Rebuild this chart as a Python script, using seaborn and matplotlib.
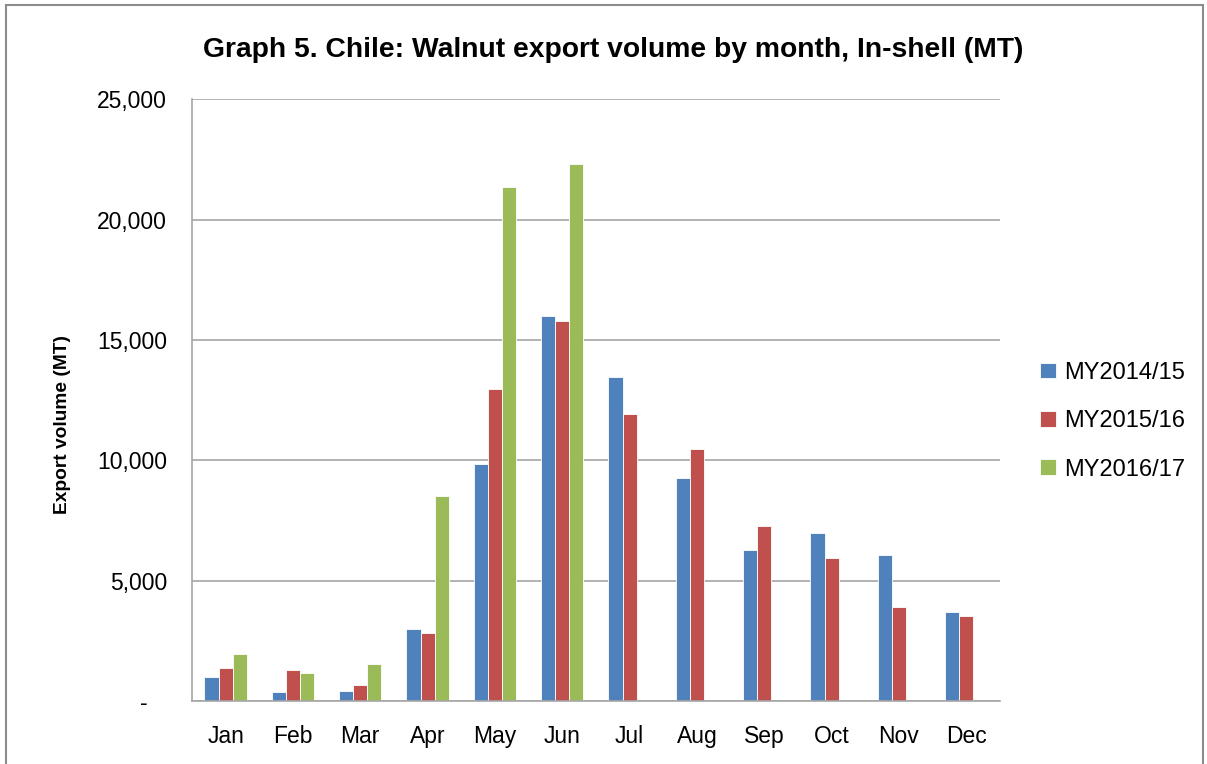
#!/usr/bin/env python3
"""
Chile walnut export volume by month, in-shell (MT).
"""

import numpy as np
import pandas as pd
import matplotlib.pyplot as plt
from matplotlib.patches import Rectangle
from matplotlib.ticker import FuncFormatter
import seaborn as sns

months = ["Jan", "Feb", "Mar", "Apr", "May", "Jun",
          "Jul", "Aug", "Sep", "Oct", "Nov", "Dec"]
seasons = ["MY2014/15", "MY2015/16", "MY2016/17"]

my2014 = [1010, 370, 430, 2980, 9830, 16000, 13450, 9250, 6290, 6960, 6060, 3710]
my2015 = [1390, 1270, 680, 2820, 12980, 15770, 11920, 10480, 7280, 5950, 3890, 3520]
my2016 = [1970, 1180, 1550, 8500, 21370, 22330, np.nan, np.nan, np.nan, np.nan, np.nan, np.nan]

colors = ["#4F81BD", "#C0504D", "#9BBB59"]

# long table for seaborn
df = pd.DataFrame({
    "month": months * 3,
    "season": np.repeat(seasons, len(months)),
    "volume": my2014 + my2015 + my2016,
})

sns.set_style("white")
plt.rcParams["font.family"] = ["Liberation Sans", "DejaVu Sans"]
plt.rcParams["text.color"] = "black"
plt.rcParams["axes.labelcolor"] = "black"

fig = plt.figure(figsize=(12.07, 7.64), dpi=100)
ax = fig.add_axes([0.159, 0.0825, 0.6695, 0.7875])

sns.barplot(data=df, x="month", y="volume", hue="season", order=months,
            hue_order=seasons, palette=colors, width=0.63, saturation=1,
            edgecolor="white", linewidth=0.6, ax=ax)

ax.set_ylim(0, 25000)
ax.set_xlim(-0.5, 11.5)
ax.set_yticks(np.arange(0, 25001, 5000))
# zero shown as a dash, accounting style
ax.yaxis.set_major_formatter(FuncFormatter(lambda v, p: "-   " if v == 0 else f"{int(v):,}"))
ax.grid(axis="y", color="#A6A6A6", linewidth=1.2)
ax.set_axisbelow(True)
ax.tick_params(axis="both", labelsize=16.5, length=0, colors="black")
ax.tick_params(axis="y", pad=18)
ax.tick_params(axis="x", pad=17)

for side in ["top", "right"]:
    ax.spines[side].set_visible(False)
for side in ["left", "bottom"]:
    ax.spines[side].set_color("#A6A6A6")
    ax.spines[side].set_linewidth(1.2)

ax.set_xlabel("")
ax.set_ylabel("Export volume (MT)", fontsize=13.8, fontweight="bold")
ax.yaxis.set_label_coords(-0.15, 0.46)

fig.text(0.508, 0.935, "Graph 5. Chile: Walnut export volume by month, In-shell (MT)",
         ha="center", va="center", fontsize=20.3, fontweight="bold")

ax.legend(loc="center left", bbox_to_anchor=(1.05, 0.465), frameon=False,
          fontsize=17, handlelength=0.65, handleheight=0.65, labelspacing=1.12,
          handletextpad=0.35, borderaxespad=0, borderpad=0)

# thin border round the chart
fig.patches.append(Rectangle((0.005, -0.01), 0.992, 1.003, transform=fig.transFigure,
                             fill=False, edgecolor="#8C8C8C", linewidth=1.5))

fig.savefig("out.png", dpi=100)
